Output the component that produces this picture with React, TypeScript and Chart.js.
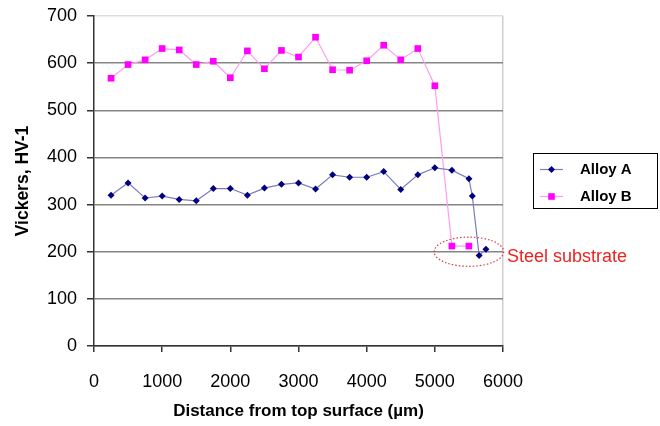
import React, { useEffect, useRef } from "react";
import { Chart, registerables } from "chart.js";

Chart.register(...registerables);

const alloyAX = [250, 500, 750, 1000, 1250, 1500, 1750, 2000, 2250, 2500, 2750, 3000, 3250, 3500, 3750, 4000, 4250, 4500, 4750, 5000, 5250, 5500, 5550, 5650, 5750];
const alloyAY = [320, 346, 314, 318, 311, 308, 334, 334, 320, 335, 343, 346, 333, 363, 358, 358, 370, 332, 363, 378, 373, 355, 318, 192, 205];
const alloyBX = [250, 500, 750, 1000, 1250, 1500, 1750, 2000, 2250, 2500, 2750, 3000, 3250, 3500, 3750, 4000, 4250, 4500, 4750, 5000, 5250, 5500];
const alloyBY = [568, 597, 607, 631, 628, 597, 604, 569, 626, 588, 627, 613, 655, 586, 585, 605, 638, 607, 631, 552, 212, 212];
const seriesNames = ["Alloy A", "Alloy B"];
const xTitle = "Distance from top surface (µm)";
const yTitle = "Vickers, HV-1";
const annotationText = "Steel substrate";
const annotationCenter = { x: 5500, y: 200 };

const FONT = "'Liberation Sans', Arial, sans-serif";
const A_LINE = "#7b7cc0";
const A_MARK = "#000080";
const B_LINE = "#ff9cf0";
const B_MARK = "#ff00ff";

const overlayPlugin = {
  id: "overlay",
  afterDraw(chart: any) {
    const ctx = chart.ctx;
    const xs = chart.scales.x;
    const ys = chart.scales.y;
    // annotation ellipse
    const cx = xs.getPixelForValue(annotationCenter.x);
    const cy = ys.getPixelForValue(annotationCenter.y);
    const rx = xs.getPixelForValue(annotationCenter.x + 510) - cx;
    const ry = cy - ys.getPixelForValue(annotationCenter.y + 31);
    ctx.save();
    ctx.beginPath();
    ctx.setLineDash([1.5, 2]);
    ctx.strokeStyle = "#d04040";
    ctx.lineWidth = 1.2;
    ctx.ellipse(cx, cy, rx, ry, 0, 0, Math.PI * 2);
    ctx.stroke();
    ctx.setLineDash([]);
    ctx.fillStyle = "#ee2222";
    ctx.font = `18px ${FONT}`;
    ctx.textBaseline = "middle";
    ctx.textAlign = "left";
    ctx.fillText(annotationText, 507, 257);

    // legend box
    const bx = 533, by = 153, bw = 124, bh = 55;
    ctx.fillStyle = "#ffffff";
    ctx.fillRect(bx, by, bw, bh);
    ctx.strokeStyle = "#000000";
    ctx.lineWidth = 1;
    ctx.strokeRect(bx + 0.5, by + 0.5, bw, bh);
    const rows = [
      { y: 169.5, line: A_LINE, mark: A_MARK, style: "rectRot", r: 3.5 },
      { y: 196.5, line: B_LINE, mark: B_MARK, style: "rect", r: 4.5 },
    ];
    rows.forEach((row, i) => {
      ctx.beginPath();
      ctx.strokeStyle = row.line;
      ctx.lineWidth = 1.2;
      ctx.moveTo(540, row.y);
      ctx.lineTo(563, row.y);
      ctx.stroke();
      ctx.fillStyle = row.mark;
      ctx.beginPath();
      if (row.style === "rect") {
        ctx.rect(551.5 - 3.3, row.y - 3.3, 6.6, 6.6);
      } else {
        ctx.moveTo(551.5, row.y - row.r);
        ctx.lineTo(551.5 + row.r, row.y);
        ctx.lineTo(551.5, row.y + row.r);
        ctx.lineTo(551.5 - row.r, row.y);
        ctx.closePath();
      }
      ctx.fill();
      ctx.fillStyle = "#000000";
      ctx.font = `bold 15px ${FONT}`;
      ctx.textBaseline = "middle";
      ctx.fillText(seriesNames[i], 580, row.y);
    });
    ctx.restore();
  },
};

export default function App() {
  const ref = useRef<HTMLCanvasElement>(null);
  useEffect(() => {
    document.body.style.margin = "0";
    const canvas = ref.current!;
    const chart = new Chart(canvas, {
      type: "line",
      data: {
        datasets: [
          {
            label: seriesNames[0],
            data: alloyAX.map((x, i) => ({ x, y: alloyAY[i] })),
            borderColor: A_LINE,
            backgroundColor: A_MARK,
            pointBackgroundColor: A_MARK,
            pointBorderColor: A_MARK,
            pointStyle: "rectRot",
            pointRadius: 3.5,
            pointBorderWidth: 0,
            borderWidth: 1.2,
            tension: 0,
          },
          {
            label: seriesNames[1],
            data: alloyBX.map((x, i) => ({ x, y: alloyBY[i] })),
            borderColor: B_LINE,
            backgroundColor: B_MARK,
            pointBackgroundColor: B_MARK,
            pointBorderColor: B_MARK,
            pointStyle: "rect",
            pointRadius: 4.7,
            pointBorderWidth: 0,
            borderWidth: 1.2,
            tension: 0,
          },
        ],
      },
      options: {
        animation: false,
        responsive: false,
        maintainAspectRatio: false,
        layout: { padding: { top: 16, right: 157, left: 0, bottom: 0 } },
        plugins: { legend: { display: false }, tooltip: { enabled: false } },
        scales: {
          x: {
            type: "linear",
            min: 0,
            max: 6000,
            ticks: {
              stepSize: 1000,
              color: "#000000",
              font: { family: FONT, size: 18 },
              padding: 19,
              maxRotation: 0,
              autoSkip: false,
              callback: (v: any) => String(v),
            },
            grid: {
              color: (c: any) => (c.tick && c.tick.value === 6000 ? "#cfcfcf" : "rgba(0,0,0,0)"),
              tickColor: "#333333",
              tickLength: 6,
              lineWidth: 1.5,
            },
            border: { color: "#333333", width: 1.5 },
            title: {
              display: true,
              text: xTitle,
              color: "#000000",
              font: { family: FONT, size: 17, weight: "bold" },
              padding: { top: 4, bottom: 4 },
            },
            afterFit: (s: any) => {
              s.height = 80;
              s.paddingLeft = 0;
              s.paddingRight = 0;
            },
          },
          y: {
            min: 0,
            max: 700,
            ticks: {
              stepSize: 100,
              color: "#000000",
              font: { family: FONT, size: 18 },
              padding: 10,
            },
            grid: {
              color: (c: any) => (c.tick && c.tick.value === 700 ? "#dddddd" : "#858585"),
              tickColor: "#333333",
              tickLength: 7,
              lineWidth: 1.5,
            },
            border: { color: "#333333", width: 1.5 },
            title: {
              display: true,
              text: yTitle,
              color: "#000000",
              font: { family: FONT, size: 17.5, weight: "bold" },
              padding: { top: 13, bottom: 4 },
            },
            afterFit: (s: any) => {
              s.width = 94;
              s.paddingTop = 0;
              s.paddingBottom = 0;
            },
          },
        },
      },
      plugins: [overlayPlugin],
    });
    return () => chart.destroy();
  }, []);
  return (
    <div style={{ position: "relative", width: 660, height: 426 }}>
      <canvas ref={ref} width={660} height={426} style={{ display: "block" }} />
    </div>
  );
}
